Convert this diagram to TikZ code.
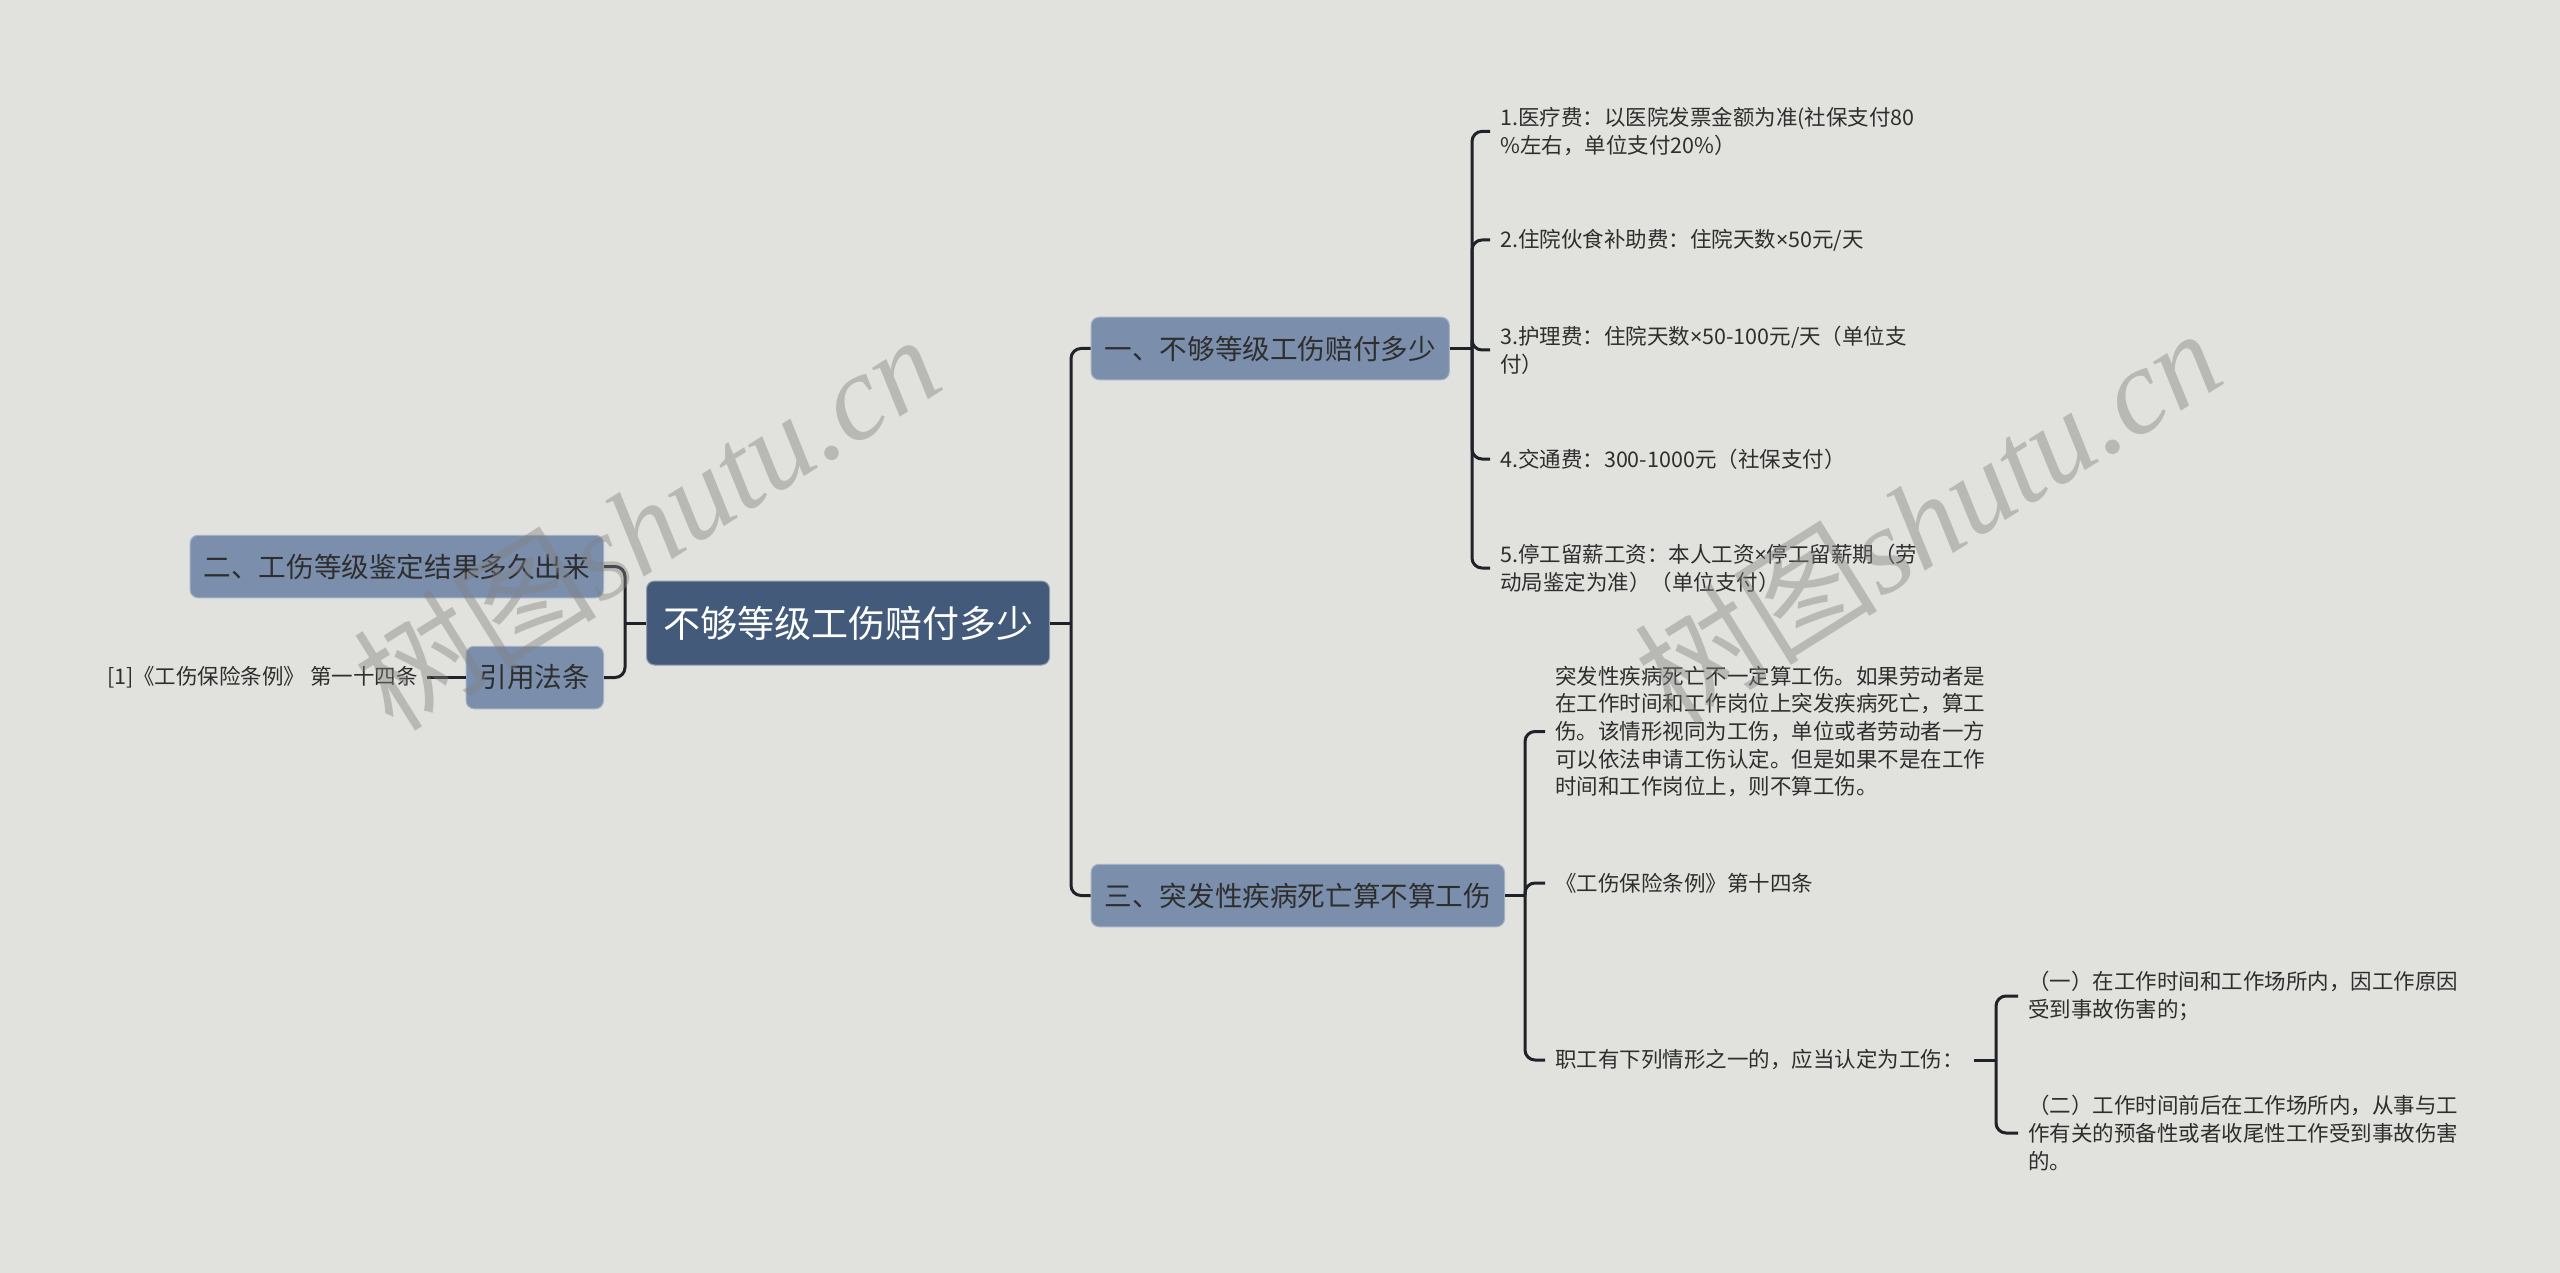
\documentclass[tikz,border=0pt]{standalone}
\usepackage{fontspec}
\setmainfont{Noto Sans CJK SC}
\newfontfamily\wmlat{Liberation Serif}
\newfontfamily\wmcjk{Noto Sans CJK SC}
\newfontfamily\latf{Noto Sans}
\newcommand{\tms}{{\latf ×}}
\definecolor{bgc}{HTML}{E1E2DD}
\definecolor{rootc}{HTML}{435A7A}
\definecolor{subc}{HTML}{7B8FAD}
\definecolor{linec}{HTML}{1F2329}
\definecolor{txtc}{HTML}{2E2E2E}
\begin{document}
\begin{tikzpicture}[x=1pt,y=-1pt,
  rootbox/.style={fill=rootc, draw=rootc!60!white, line width=1pt, rounded corners=8pt,
    text=white, font=\fontsize{37}{44}\selectfont, inner xsep=16.5pt, inner ysep=0pt,
    minimum height=84pt},
  subbox/.style={fill=subc, draw=subc!70!white, line width=1pt, rounded corners=8pt,
    text=txtc, font=\fontsize{27.6}{33}\selectfont, inner xsep=13.5pt, inner ysep=0pt,
    minimum height=62.5pt},
  leaf/.style={text=txtc, font=\fontsize{21.5}{27.7}\selectfont, align=left,
    inner xsep=10pt, inner ysep=2pt},
  conn/.style={draw=linec, line width=3pt, rounded corners=10pt},
  wm/.style={text=gray, text opacity=0.42, font=\fontsize{122}{140}\selectfont, inner sep=0pt}
]
\useasboundingbox[fill=bgc] (0,0) rectangle (2560,1273);

% main nodes
\node[rootbox] (c) at (848,623) {不够等级工伤赔付多少};
\node[subbox, anchor=east] (b2) at (604,566.5) {二、工伤等级鉴定结果多久出来};
\node[subbox, anchor=east] (rb) at (604,677.5) {引用法条};
\node[leaf, anchor=east, inner xsep=9pt] (rt) at (427,677.5) {[1]《工伤保险条例》 第一十四条};
\node[subbox, anchor=west] (b1) at (1090.6,348.5) {一、不够等级工伤赔付多少};
\node[subbox, anchor=west] (b3) at (1090.6,895.5) {三、突发性疾病死亡算不算工伤};

% leaves of branch one
\node[leaf, anchor=west] (l1) at (1490,131.4) {1.医疗费：以医院发票金额为准(社保支付80\\\%左右，单位支付20\%）};
\node[leaf, anchor=west] (l2) at (1490,240) {2.住院伙食补助费：住院天数\tms{}50元/天};
\node[leaf, anchor=west] (l3) at (1490,350) {3.护理费：住院天数\tms{}50-100元/天（单位支\\付）};
\node[leaf, anchor=west] (l4) at (1490,459) {4.交通费：300-1000元（社保支付）};
\node[leaf, anchor=west] (l5) at (1490,568) {5.停工留薪工资：本人工资\tms{}停工留薪期（劳\\动局鉴定为准）（单位支付）};

% leaves of branch three
\node[leaf, anchor=west] (la) at (1545,731.5) {突发性疾病死亡不一定算工伤。如果劳动者是\\在工作时间和工作岗位上突发疾病死亡，算工\\伤。该情形视同为工伤，单位或者劳动者一方\\可以依法申请工伤认定。但是如果不是在工作\\时间和工作岗位上，则不算工伤。};
\node[leaf, anchor=west] (lb) at (1545,883) {《工伤保险条例》第十四条};
\node[leaf, anchor=west] (lc) at (1545,1060) {职工有下列情形之一的，应当认定为工伤：};
\node[leaf, anchor=west] (s1) at (2018,996) {（一）在工作时间和工作场所内，因工作原因\\受到事故伤害的；};
\node[leaf, anchor=west] (s2) at (2018,1133) {（二）工作时间前后在工作场所内，从事与工\\作有关的预备性或者收尾性工作受到事故伤害\\的。};

% junctions
\coordinate (jR) at (1071,623);
\coordinate (jL) at (625,623);
\coordinate (j1) at (1472,348.5);
\coordinate (j3) at (1525,895.5);
\coordinate (jc) at (1996,1060);

% connectors
\draw[conn] (c.east) -- (jR);
\draw[conn] (jR) |- (b1.west);
\draw[conn] (jR) |- (b3.west);
\draw[conn] (c.west) -- (jL);
\draw[conn] (jL) |- (b2.east);
\draw[conn] (jL) |- (rb.east);
\draw[conn] (rb.west) -- (rt.east);

\draw[conn] (b1.east) -- (j1);
\foreach \n in {l1,l2,l3,l4,l5} \draw[conn] (j1) |- (\n.west);

\draw[conn] (b3.east) -- (j3);
\foreach \n in {la,lb,lc} \draw[conn] (j3) |- (\n.west);

\draw[conn] (lc.east) -- (jc);
\foreach \n in {s1,s2} \draw[conn] (jc) |- (\n.west);

% watermarks
\node[wm, rotate=32] (wm1) at (646,521) {\wmcjk 树图\wmlat\itshape shutu.cn};
\node[wm, rotate=32] (wm2) at (1927,515) {\wmcjk 树图\wmlat\itshape shutu.cn};
\end{tikzpicture}
\end{document}
